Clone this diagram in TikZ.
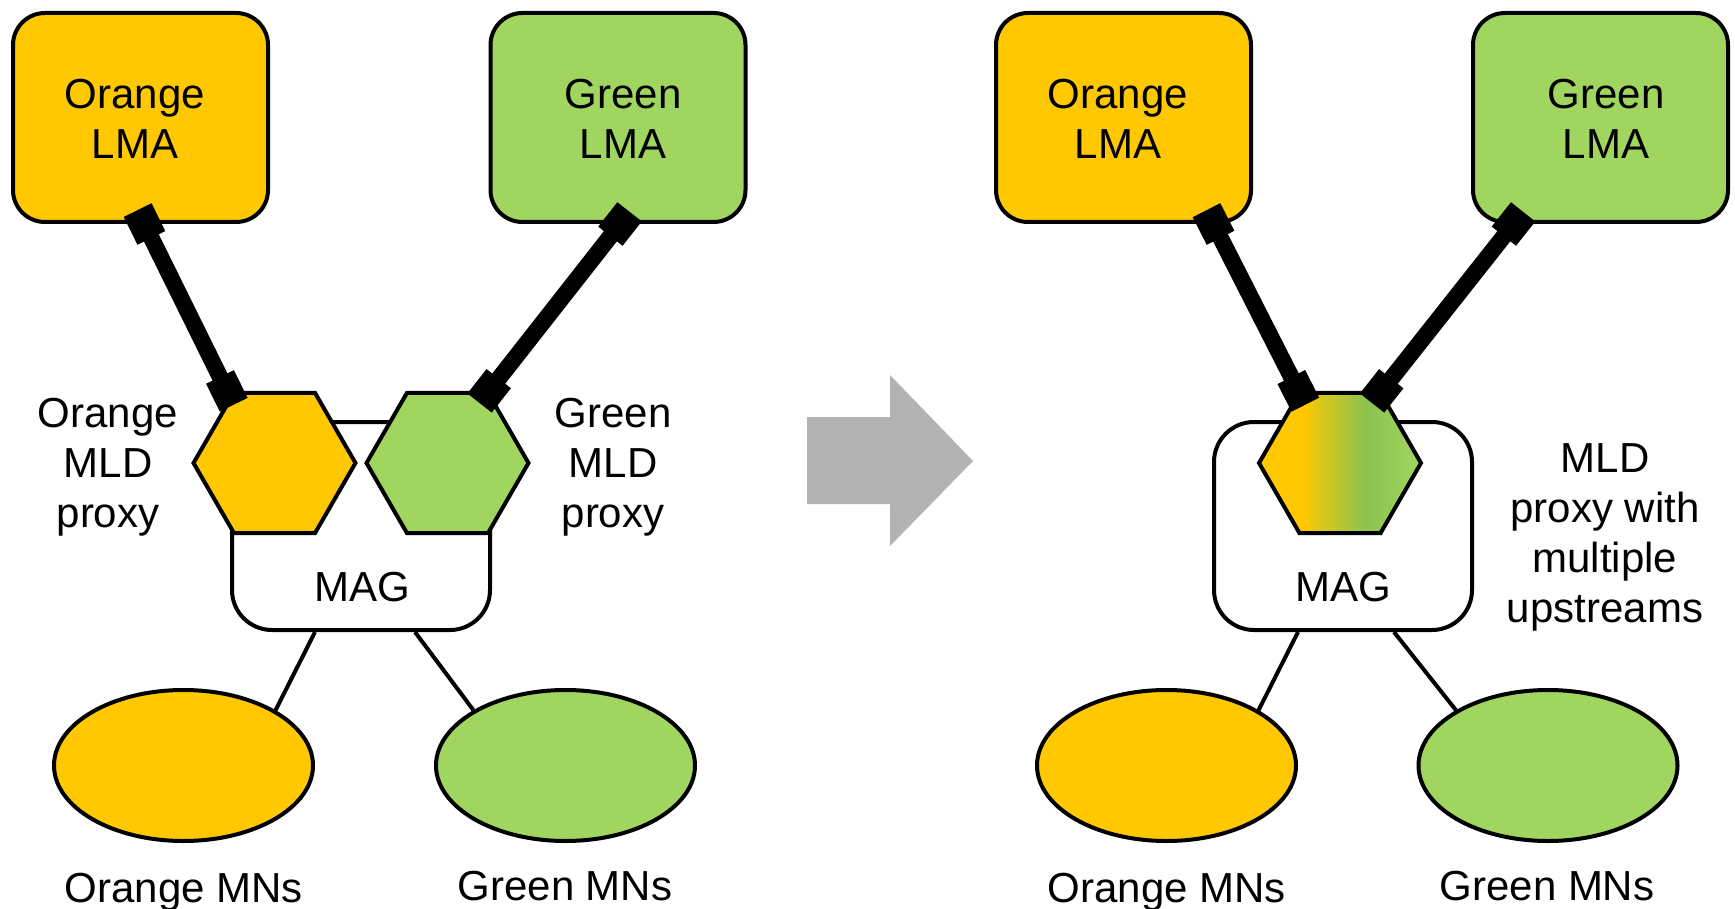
\documentclass[tikz,border=0pt]{standalone}
\usepackage{fontspec}
\setmainfont{Liberation Sans}
\usetikzlibrary{shapes.geometric}
\definecolor{ora}{HTML}{FFC800}
\definecolor{grn}{HTML}{A0D660}
\definecolor{olv}{HTML}{E9C80F}
\definecolor{grnd}{HTML}{8CC350}
\definecolor{arrg}{HTML}{B3B3B3}
\pgfdeclarehorizontalshading{mldmix}{100bp}{color(0bp)=(ora); color(25bp)=(ora); color(39.5bp)=(ora); color(41.5bp)=(olv); color(58bp)=(grnd); color(75bp)=(grn); color(100bp)=(grn)}

\begin{document}
\begin{tikzpicture}[x=1pt,y=-1pt,
    every node/.style={font=\fontsize{42}{50}\selectfont},
    lma/.style={draw,line width=4pt,rounded corners=32pt,minimum width=255pt,minimum height=209pt},
    magbox/.style={draw,line width=4pt,fill=white,rounded corners=40pt,minimum width=258pt,minimum height=208pt},
    hexa/.style={draw,line width=4pt,regular polygon,regular polygon sides=6,minimum size=162pt,inner sep=0pt},
    mn/.style={draw,line width=4pt,ellipse,minimum width=259pt,minimum height=151pt},
    link/.style={line width=16.5pt},
    sqr/.style={fill=black,minimum size=31pt,inner sep=0pt},
    thinlink/.style={line width=4pt}]
    \useasboundingbox (0,0) rectangle (1735,909);

    \node[lma,fill=ora] (olma) at (140.5,117.5) {};
    \node[align=center] (olmal) at (135,119) {Orange\\LMA};
    \node[lma,fill=grn] (glma) at (618,117.5) {};
    \node[align=center] (glmal) at (623,119) {Green\\LMA};
    \node[magbox] (mag) at (361,526) {};
    \node[anchor=base] (magl) at (362,601) {MAG};
    \node[hexa,fill=ora] (ohex) at (274.5,463) {};
    \node[hexa,fill=grn] (ghex) at (447.5,463) {};
    \node[align=center] (omld) at (108,467) {Orange\\MLD\\proxy};
    \node[align=center] (gmld) at (613,467) {Green\\MLD\\proxy};
    \node[mn,fill=ora] (omn) at (183.5,765.5) {};
    \node[mn,fill=grn] (gmn) at (565.5,765.5) {};
    \node[anchor=base] (omnl) at (184,902) {Orange MNs};
    \node[anchor=base] (gmnl) at (565,900) {Green MNs};

    \draw[link] ([xshift=4pt]olma.south) -- node[pos=0,sloped,sqr] (s1) {} node[pos=1,sloped,sqr] (s2) {} ([xshift=-6pt]ohex.120);
    \draw[link] ([xshift=2pt]glma.south) -- node[pos=0,sloped,sqr] (s3) {} node[pos=1,sloped,sqr] (s4) {} (ghex.60);
    \draw[thinlink] ([xshift=-46pt]mag.south) -- (omn.31);
    \draw[thinlink] ([xshift=54pt]mag.south) -- (gmn.149);

    \fill[arrg] (807,417) -- (890,417) -- (890,375) -- (973,461) -- (890,546) -- (890,504) -- (807,504) -- cycle;

    \node[lma,fill=ora] (rolma) at (1123.5,117.5) {};
    \node[align=center] (rolmal) at (1118,119) {Orange\\LMA};
    \node[lma,fill=grn] (rglma) at (1600.5,117.5) {};
    \node[align=center] (rglmal) at (1606,119) {Green\\LMA};
    \node[magbox] (rmag) at (1343,526) {};
    \node[anchor=base] (rmagl) at (1343,601) {MAG};
    \node[hexa,shade,shading=mldmix] (rhex) at (1340,463) {};
    \node[align=center] (mldx) at (1605,537) {MLD\\proxy with\\multiple\\upstreams};
    \node[mn,fill=ora] (romn) at (1166.5,765.5) {};
    \node[mn,fill=grn] (rgmn) at (1548,765.5) {};
    \node[anchor=base] (romnl) at (1167,902) {Orange MNs};
    \node[anchor=base] (rgmnl) at (1547,900) {Green MNs};

    \draw[link] ([xshift=90pt]rolma.south) -- node[pos=0,sloped,sqr] (s5) {} node[pos=1,sloped,sqr] (s6) {} (rhex.120);
    \draw[link] ([xshift=-87pt]rglma.south) -- node[pos=0,sloped,sqr] (s7) {} node[pos=1,sloped,sqr] (s8) {} (rhex.60);
    \draw[thinlink] ([xshift=-45pt]rmag.south) -- (romn.31);
    \draw[thinlink] ([xshift=51pt]rmag.south) -- (rgmn.149);
\end{tikzpicture}
\end{document}
